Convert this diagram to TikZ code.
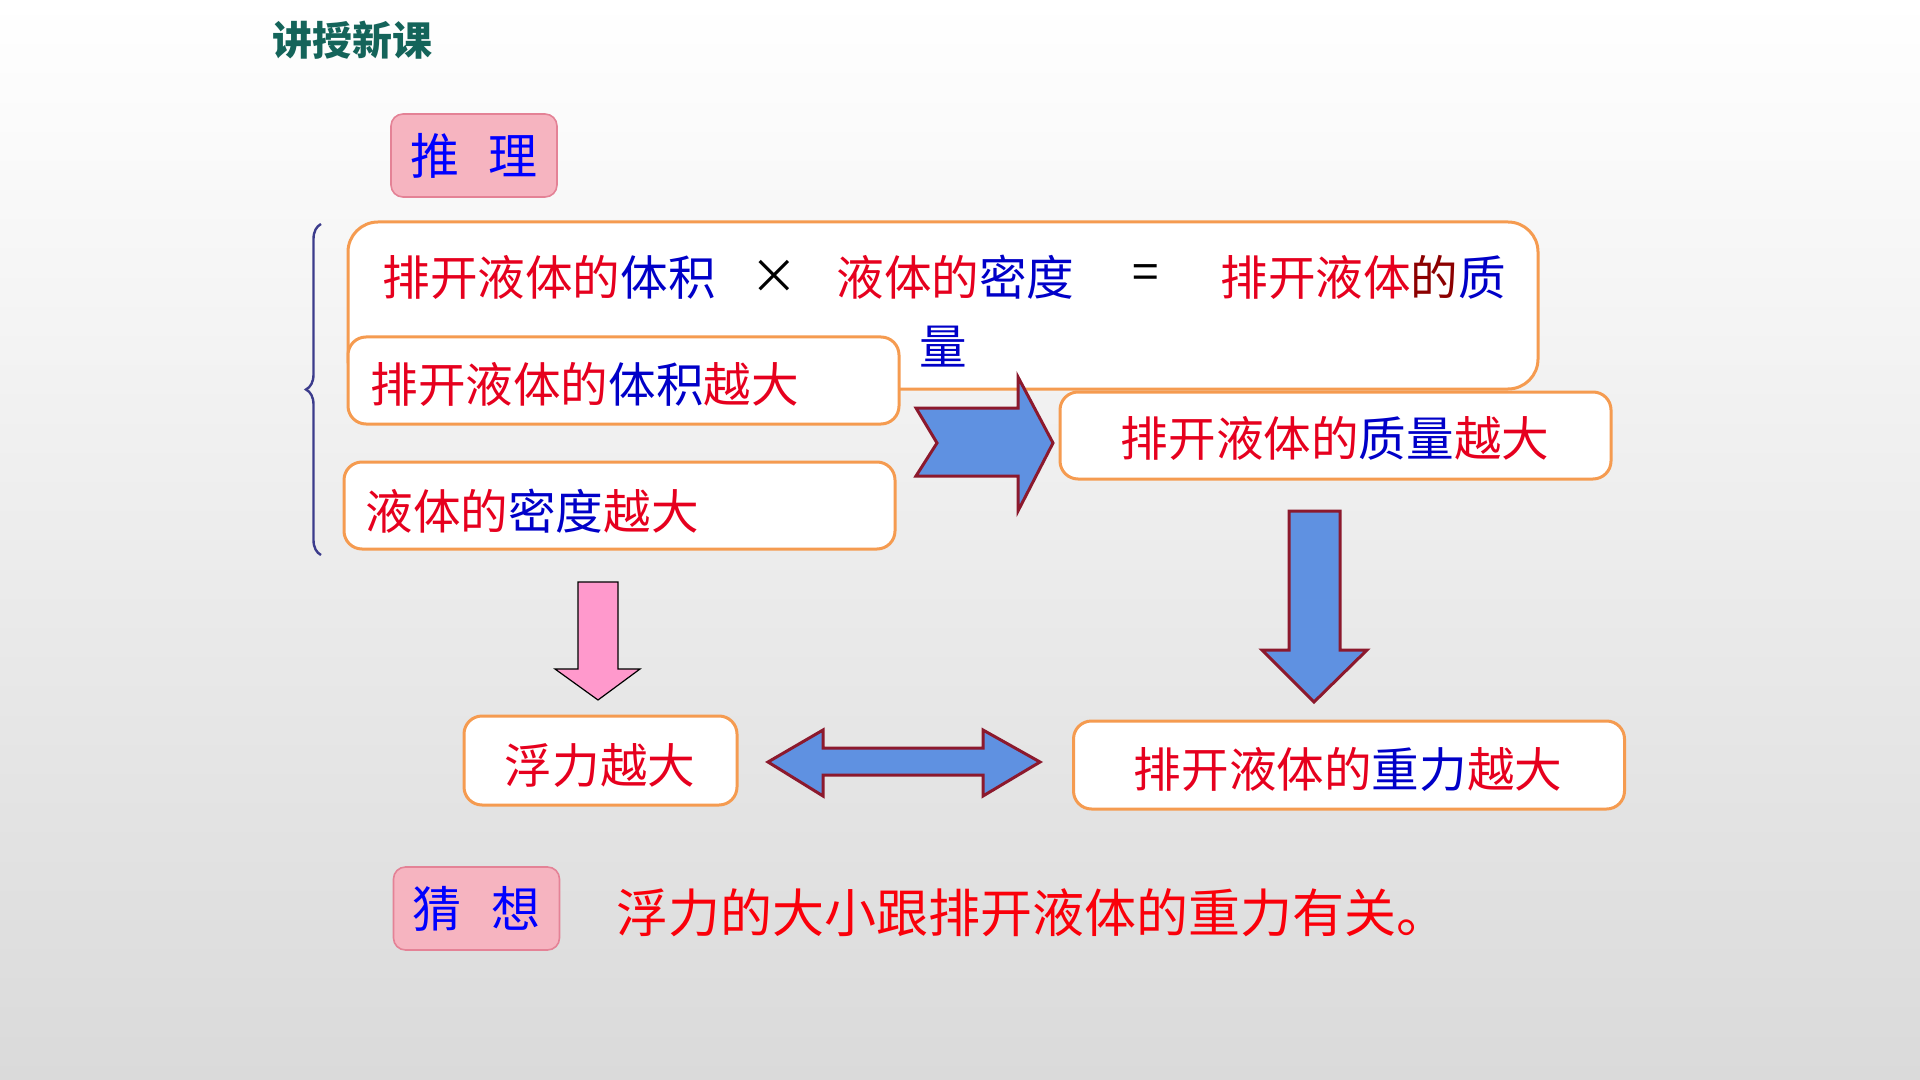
\documentclass[tikz,border=0pt]{standalone}
\usepackage{fontspec}
\setmainfont{Noto Sans CJK SC}
\usetikzlibrary{positioning,decorations.pathreplacing}
\definecolor{txtred}{RGB}{230,0,30}
\definecolor{txtblue}{RGB}{0,0,200}
\definecolor{darkred}{RGB}{140,0,0}
\definecolor{boxorange}{RGB}{245,155,80}
\definecolor{pinkfill}{RGB}{246,180,192}
\definecolor{pinkline}{RGB}{228,130,150}
\definecolor{tagblue}{RGB}{0,0,255}
\definecolor{arrowblue}{RGB}{95,145,225}
\definecolor{arrowline}{RGB}{140,25,45}
\definecolor{arrowpink}{RGB}{255,153,204}
\definecolor{titleteal}{RGB}{20,100,90}
\definecolor{bracecol}{RGB}{60,60,140}
\definecolor{bgbottom}{RGB}{218,218,218}
\definecolor{stmtred}{RGB}{250,0,10}

\begin{document}
\begin{tikzpicture}[x=0.5pt,y=-0.5pt,
  box/.style={draw=boxorange, line width=1.5pt, fill=white, rounded corners=9pt, inner sep=0pt},
  tag/.style={draw=pinkline, line width=0.8pt, fill=pinkfill, rounded corners=6pt, minimum width=83pt, minimum height=41.5pt, text=tagblue, font=\fontsize{24.5}{28}\selectfont},
  txt/.style={inner sep=0pt, font=\fontsize{23.8}{28}\selectfont},
  blk/.style={fill=arrowblue, draw=arrowline, line width=1.5pt, line join=miter}]
\def\rtx#1{\textcolor{txtred}{#1}}
\def\btx#1{\textcolor{txtblue}{#1}}
\def\bw{275.5pt}
\def\bh{43.5pt}
\shade[top color=white, bottom color=bgbottom] (0,0) rectangle (1920,1080);
\useasboundingbox (0,0) rectangle (1920,1080);
\node[anchor=west, inner sep=0pt, text=titleteal, font=\fontsize{20}{24}\selectfont\bfseries] (title) at (272,40) {讲授新课};
\node[tag] (reason) at (474,155.5) {推\hspace{0.6em}理};
\draw[bracecol, line width=1.2pt, decorate, decoration={brace, amplitude=7.5pt}] (321,555) -- (321,224);
\node[box, rounded corners=15pt, minimum width=595pt, minimum height=83.5pt] (formula) at (943,305.5) {};
\node[txt, anchor=west] (fvol) at (382,277) {\rtx{排开液体的}\btx{体积}};
\node[txt] (ftimes) at (774,277) {×};
\node[txt, anchor=west] (fdens) at (836,277) {\rtx{液体的}\btx{密度}};
\node[txt] (feq) at (1146,277) {=};
\node[txt, anchor=west] (fmass) at (1220,277) {\rtx{排开液体}\textcolor{darkred}{的}\btx{质}};
\node[txt, text=txtblue] (fmassb) at (943,347) {量};
\node[box, minimum width=\bw, minimum height=\bh] (vol) at (623.5,380.5) {};
\node[txt, anchor=west] (voltxt) at (370,384) {\rtx{排开液体的}\btx{体积}\rtx{越大}};
\node[box, minimum width=\bw, minimum height=\bh] (dens) at (619.5,505.5) {};
\node[txt, anchor=west] (denstxt) at (365,511) {\rtx{液体的}\btx{密度}\rtx{越大}};
\node[box, minimum width=\bw, minimum height=\bh] (mass) at (1335.5,435.5) {};
\node[txt] (masstxt) at (1335,438) {\rtx{排开液体的}\btx{质量}\rtx{越大}};
\draw[blk] (916,408) -- (1018,408) -- (1018,377) -- (1053,443) -- (1018,511) -- (1018,476) -- (916,476) -- (937,443) -- cycle;
\draw[blk] (1289,511) -- (1340,511) -- (1340,650) -- (1367,650) -- (1314,702) -- (1262,650) -- (1289,650) -- cycle;
\draw[fill=arrowpink, draw=black, line width=0.6pt] (578,582) -- (618,582) -- (618,669) -- (640,669) -- (598,700) -- (555,669) -- (578,669) -- cycle;
\node[box, minimum width=136.5pt, minimum height=44.5pt] (buoy) at (600.5,760.5) {};
\node[txt] (buoytxt) at (600,765) {\rtx{浮力越大}};
\draw[blk] (768,762) -- (823,730) -- (823,748) -- (983,748) -- (983,730) -- (1040,762) -- (983,796) -- (983,775) -- (823,775) -- (823,796) -- cycle;
\node[box, minimum width=\bw, minimum height=44pt] (weight) at (1349,765) {};
\node[txt] (weighttxt) at (1348,769) {\rtx{排开液体的}\btx{重力}\rtx{越大}};
\node[tag] (guess) at (476.5,908.5) {猜\hspace{0.6em}想};
\node[anchor=west, inner sep=0pt, text=stmtred, font=\fontsize{26}{30}\selectfont] (stmt) at (616,913) {浮力的大小跟排开液体的重力有关。};
\end{tikzpicture}
\end{document}
